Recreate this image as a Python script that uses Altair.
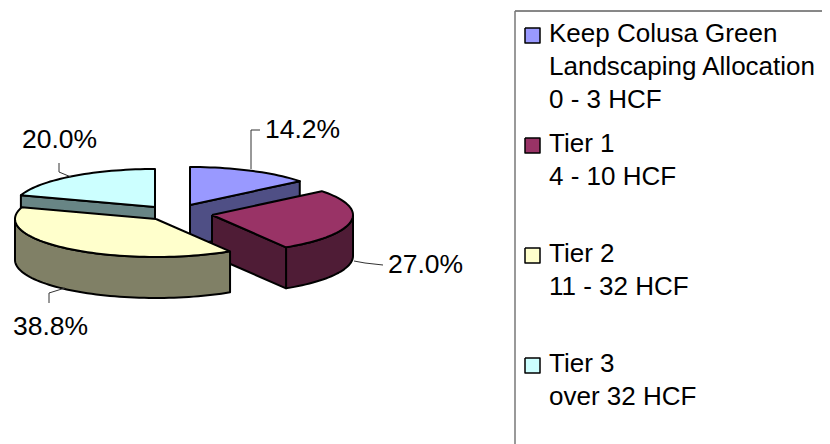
import math
import altair as alt
import pandas as pd

# --- chart values
shares = [14.2, 27.0, 38.8, 20.0]
share_labels = ["14.2%", "27.0%", "38.8%", "20.0%"]
top_colors = ["#9999FF", "#993366", "#FFFFCC", "#CCFFFF"]
side_colors = ["#4F4F85", "#4F1C36", "#808066", "#688585"]
legend_lines = [
    ["Keep Colusa Green", "Landscaping Allocation", "0 - 3 HCF"],
    ["Tier 1", "4 - 10 HCF"],
    ["Tier 2", "11 - 32 HCF"],
    ["Tier 3", "over 32 HCF"],
]

# --- layout of the tilted pie, in page pixels
RX, RY, DEPTH = 141, 38, 41
centers = [(190, 205), (212, 215), (156, 219), (155, 207)]
label_pos = [(265, 138), (388, 273), (13, 335), (22, 148)]
leaders = [
    [(251, 169), (251, 130), (260, 130)],
    [(354, 261), (365, 263), (383, 265)],
    [(65, 288), (49, 293), (49, 303)],
    [(71, 177), (59, 172), (59, 163)],
]
legend_first_baseline = [42, 152, 262, 372]
LINE_H = 33
W, H = 814, 436

x_enc = alt.X("x:Q", axis=None, scale=alt.Scale(domain=[8, 8 + W], range=[0, W], nice=False, zero=False))
y_enc = alt.Y("y:Q", axis=None, scale=alt.Scale(domain=[8 + H, 8], range=[H, 0], nice=False, zero=False))


def rim(center, a0, a1, dy=0.0):
    n = max(2, int(abs(a1 - a0) / 2))
    pts = []
    for i in range(n + 1):
        a = math.radians(a0 + (a1 - a0) * i / n)
        pts.append((center[0] + RX * math.sin(a), center[1] - RY * math.cos(a) + dy))
    return pts


def poly(points, fill, stroke="black", width=2):
    pts = list(points) + ([points[0]] if fill else [])
    df = pd.DataFrame({"x": [p[0] for p in pts], "y": [p[1] for p in pts], "i": range(len(pts))})
    kw = {"fill": fill} if fill else {}
    return alt.Chart(df).mark_line(stroke=stroke, strokeWidth=width, strokeJoin="round", clip=True, **kw).encode(
        x=x_enc, y=y_enc, order="i:Q"
    )


# slice angles come from the shares
starts, acc = [], 0.0
for s in shares:
    starts.append(acc)
    acc += s * 3.6
ends = [a + s * 3.6 for a, s in zip(starts, shares)]


def top(i):
    return poly([centers[i]] + rim(centers[i], starts[i], ends[i]), top_colors[i])


def radial_wall(i, angle):
    c = centers[i]
    p = rim(c, angle, angle)[0]
    return poly([c, p, (p[0], p[1] + DEPTH), (c[0], c[1] + DEPTH)], side_colors[i])


def outer_wall(i, a0, a1):
    up = rim(centers[i], a0, a1)
    down = rim(centers[i], a0, a1, DEPTH)
    return poly(up + down[::-1], side_colors[i])


layers = [
    radial_wall(0, ends[0]), top(0),
    radial_wall(3, starts[3]), top(3),
    outer_wall(1, 90, ends[1]), radial_wall(1, ends[1]), top(1),
    outer_wall(2, starts[2], 270), top(2),
]

# leader lines
for pts in leaders:
    layers.append(poly(pts, None, stroke="#333333", width=1))

# data labels
lab = pd.DataFrame({"x": [p[0] for p in label_pos], "y": [p[1] for p in label_pos], "t": share_labels})
layers.append(
    alt.Chart(lab).mark_text(font="Liberation Sans", fontSize=26.5, align="left", baseline="alphabetic", color="black")
    .encode(x=x_enc, y=y_enc, text="t:N")
)

# legend frame
layers.append(poly([(8 + W, 11), (515, 11)], None, stroke="#111111", width=1))
layers.append(poly([(515, 11), (515, 8 + H)], None, stroke="#777777", width=1.5))

# legend entries
rows = []
for base, lines in zip(legend_first_baseline, legend_lines):
    for j, t in enumerate(lines):
        rows.append({"x": 549, "y": base + j * LINE_H, "t": t})
layers.append(
    alt.Chart(pd.DataFrame(rows)).mark_text(font="Liberation Sans", fontSize=26, align="left", baseline="alphabetic", color="black")
    .encode(x=x_enc, y=y_enc, text="t:N")
)
for base, col in zip(legend_first_baseline, top_colors):
    x0, x1, y0, y1 = 525, 540, base - 14, base + 1
    layers.append(poly([(x0, y0), (x1, y0), (x1, y1), (x0, y1)], col, width=1.5))

chart = (
    alt.layer(*layers)
    .properties(width=W, height=H, padding=0, autosize=alt.AutoSizeParams(type="none"))
    .configure_view(stroke=None)
)
chart.save("out.html", embed_options={"renderer": "svg", "actions": False})
